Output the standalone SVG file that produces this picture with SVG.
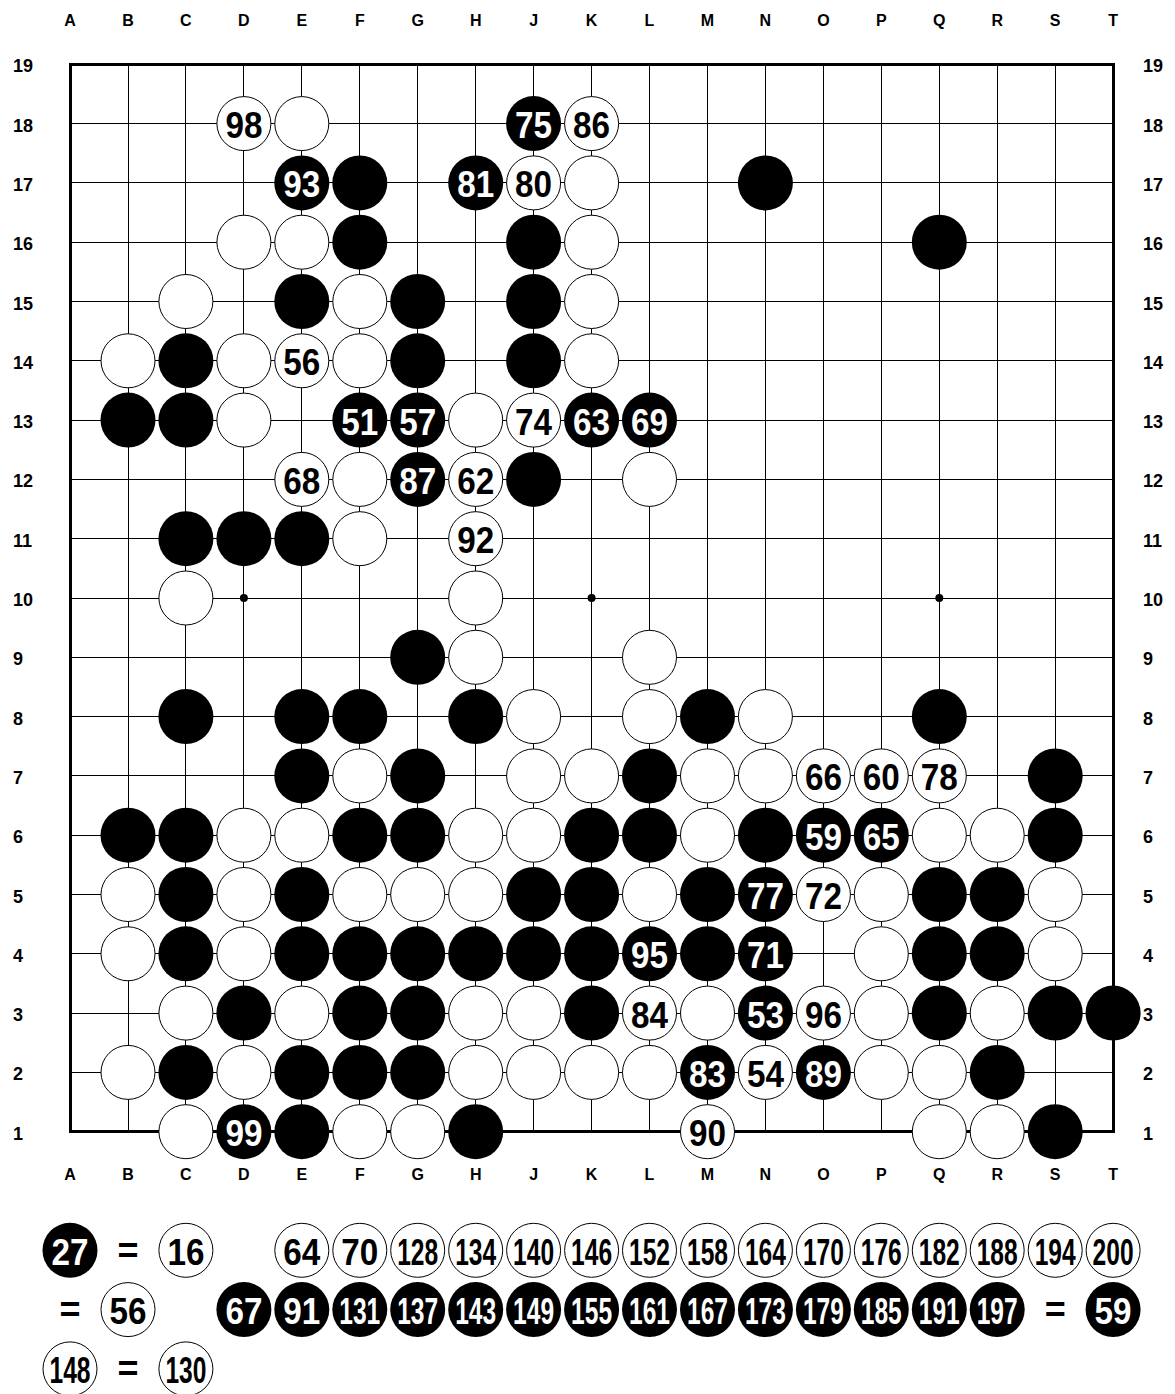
<svg xmlns="http://www.w3.org/2000/svg" xmlns:xlink="http://www.w3.org/1999/xlink" width="1175" height="1394" viewBox="0 0 1175 1394">
<style>
.lbl{font-family:"Liberation Sans",Arial,sans-serif;font-weight:bold;font-size:16px;fill:#000;text-anchor:middle}
.rl{font-family:"Liberation Sans",Arial,sans-serif;font-weight:bold;font-size:18px;fill:#000}
.nb{font-family:"Liberation Sans",Arial,sans-serif;font-weight:bold;font-size:36px;fill:#fff;text-anchor:middle}
.nw{font-family:"Liberation Sans",Arial,sans-serif;font-weight:bold;font-size:36px;fill:#000;text-anchor:middle}
.eq{font-family:"Liberation Sans",Arial,sans-serif;font-weight:bold;font-size:36px;fill:#000;text-anchor:middle}
</style>
<defs>
<circle id="bk" r="27.5" fill="#000"/>
<circle id="wh" r="27" fill="#fff" stroke="#000" stroke-width="1"/>
</defs>
<rect width="1175" height="1394" fill="#fff"/>
<g id="coords">
<text class="lbl" x="70" y="26">A</text><text class="lbl" x="128" y="26">B</text><text class="lbl" x="185.9" y="26">C</text><text class="lbl" x="243.9" y="26">D</text><text class="lbl" x="301.8" y="26">E</text><text class="lbl" x="359.8" y="26">F</text><text class="lbl" x="417.7" y="26">G</text><text class="lbl" x="475.7" y="26">H</text><text class="lbl" x="533.6" y="26">J</text><text class="lbl" x="591.6" y="26">K</text><text class="lbl" x="649.5" y="26">L</text><text class="lbl" x="707.5" y="26">M</text><text class="lbl" x="765.4" y="26">N</text><text class="lbl" x="823.4" y="26">O</text><text class="lbl" x="881.3" y="26">P</text><text class="lbl" x="939.3" y="26">Q</text><text class="lbl" x="997.2" y="26">R</text><text class="lbl" x="1055.2" y="26">S</text><text class="lbl" x="1113.1" y="26">T</text>
<text class="lbl" x="70" y="1180">A</text><text class="lbl" x="128" y="1180">B</text><text class="lbl" x="185.9" y="1180">C</text><text class="lbl" x="243.9" y="1180">D</text><text class="lbl" x="301.8" y="1180">E</text><text class="lbl" x="359.8" y="1180">F</text><text class="lbl" x="417.7" y="1180">G</text><text class="lbl" x="475.7" y="1180">H</text><text class="lbl" x="533.6" y="1180">J</text><text class="lbl" x="591.6" y="1180">K</text><text class="lbl" x="649.5" y="1180">L</text><text class="lbl" x="707.5" y="1180">M</text><text class="lbl" x="765.4" y="1180">N</text><text class="lbl" x="823.4" y="1180">O</text><text class="lbl" x="881.3" y="1180">P</text><text class="lbl" x="939.3" y="1180">Q</text><text class="lbl" x="997.2" y="1180">R</text><text class="lbl" x="1055.2" y="1180">S</text><text class="lbl" x="1113.1" y="1180">T</text>
<text class="rl" x="13" y="72.3">19</text><text class="rl" x="13" y="131.6">18</text><text class="rl" x="13" y="190.9">17</text><text class="rl" x="13" y="250.2">16</text><text class="rl" x="13" y="309.5">15</text><text class="rl" x="13" y="368.8">14</text><text class="rl" x="13" y="428.1">13</text><text class="rl" x="13" y="487.4">12</text><text class="rl" x="13" y="546.7">11</text><text class="rl" x="13" y="606">10</text><text class="rl" x="13" y="665.3">9</text><text class="rl" x="13" y="724.6">8</text><text class="rl" x="13" y="783.9">7</text><text class="rl" x="13" y="843.2">6</text><text class="rl" x="13" y="902.5">5</text><text class="rl" x="13" y="961.8">4</text><text class="rl" x="13" y="1021.1">3</text><text class="rl" x="13" y="1080.4">2</text><text class="rl" x="13" y="1139.7">1</text>
<text class="rl" x="1143" y="72.3">19</text><text class="rl" x="1143" y="131.6">18</text><text class="rl" x="1143" y="190.9">17</text><text class="rl" x="1143" y="250.2">16</text><text class="rl" x="1143" y="309.5">15</text><text class="rl" x="1143" y="368.8">14</text><text class="rl" x="1143" y="428.1">13</text><text class="rl" x="1143" y="487.4">12</text><text class="rl" x="1143" y="546.7">11</text><text class="rl" x="1143" y="606">10</text><text class="rl" x="1143" y="665.3">9</text><text class="rl" x="1143" y="724.6">8</text><text class="rl" x="1143" y="783.9">7</text><text class="rl" x="1143" y="843.2">6</text><text class="rl" x="1143" y="902.5">5</text><text class="rl" x="1143" y="961.8">4</text><text class="rl" x="1143" y="1021.1">3</text><text class="rl" x="1143" y="1080.4">2</text><text class="rl" x="1143" y="1139.7">1</text>
</g>
<g id="grid" stroke="#000" fill="none" shape-rendering="crispEdges">
<path stroke-width="1" d="M70 123.6H1113.1M70 182.9H1113.1M70 242.2H1113.1M70 301.5H1113.1M70 360.8H1113.1M70 420.1H1113.1M70 479.4H1113.1M70 538.7H1113.1M70 598H1113.1M70 657.3H1113.1M70 716.6H1113.1M70 775.9H1113.1M70 835.2H1113.1M70 894.5H1113.1M70 953.8H1113.1M70 1013.1H1113.1M70 1072.4H1113.1M128 64.3V1131.7M185.9 64.3V1131.7M243.9 64.3V1131.7M301.8 64.3V1131.7M359.8 64.3V1131.7M417.7 64.3V1131.7M475.7 64.3V1131.7M533.6 64.3V1131.7M591.6 64.3V1131.7M649.5 64.3V1131.7M707.5 64.3V1131.7M765.4 64.3V1131.7M823.4 64.3V1131.7M881.3 64.3V1131.7M939.3 64.3V1131.7M997.2 64.3V1131.7M1055.2 64.3V1131.7"/>
<rect x="70" y="64.3" width="1043.1" height="1067.4" stroke-width="3"/>
</g>
<g id="hoshi" fill="#000">
<circle cx="243.9" cy="598" r="4"/><circle cx="591.6" cy="598" r="4"/><circle cx="939.3" cy="598" r="4"/>
</g>
<g id="stones">
<g id="D18"><use href="#wh" x="243.9" y="123.6"/><text class="nw" x="243.9" y="138.1" textLength="37" lengthAdjust="spacingAndGlyphs">98</text></g>
<g id="E18"><use href="#wh" x="301.8" y="123.6"/></g>
<g id="J18"><use href="#bk" x="533.6" y="123.6"/><text class="nb" x="533.6" y="138.1" textLength="37" lengthAdjust="spacingAndGlyphs">75</text></g>
<g id="K18"><use href="#wh" x="591.6" y="123.6"/><text class="nw" x="591.6" y="138.1" textLength="37" lengthAdjust="spacingAndGlyphs">86</text></g>
<g id="E17"><use href="#bk" x="301.8" y="182.9"/><text class="nb" x="301.8" y="197.4" textLength="37" lengthAdjust="spacingAndGlyphs">93</text></g>
<g id="F17"><use href="#bk" x="359.8" y="182.9"/></g>
<g id="H17"><use href="#bk" x="475.7" y="182.9"/><text class="nb" x="475.7" y="197.4" textLength="37" lengthAdjust="spacingAndGlyphs">81</text></g>
<g id="J17"><use href="#wh" x="533.6" y="182.9"/><text class="nw" x="533.6" y="197.4" textLength="37" lengthAdjust="spacingAndGlyphs">80</text></g>
<g id="K17"><use href="#wh" x="591.6" y="182.9"/></g>
<g id="N17"><use href="#bk" x="765.4" y="182.9"/></g>
<g id="D16"><use href="#wh" x="243.9" y="242.2"/></g>
<g id="E16"><use href="#wh" x="301.8" y="242.2"/></g>
<g id="F16"><use href="#bk" x="359.8" y="242.2"/></g>
<g id="J16"><use href="#bk" x="533.6" y="242.2"/></g>
<g id="K16"><use href="#wh" x="591.6" y="242.2"/></g>
<g id="Q16"><use href="#bk" x="939.3" y="242.2"/></g>
<g id="C15"><use href="#wh" x="185.9" y="301.5"/></g>
<g id="E15"><use href="#bk" x="301.8" y="301.5"/></g>
<g id="F15"><use href="#wh" x="359.8" y="301.5"/></g>
<g id="G15"><use href="#bk" x="417.7" y="301.5"/></g>
<g id="J15"><use href="#bk" x="533.6" y="301.5"/></g>
<g id="K15"><use href="#wh" x="591.6" y="301.5"/></g>
<g id="B14"><use href="#wh" x="128" y="360.8"/></g>
<g id="C14"><use href="#bk" x="185.9" y="360.8"/></g>
<g id="D14"><use href="#wh" x="243.9" y="360.8"/></g>
<g id="E14"><use href="#wh" x="301.8" y="360.8"/><text class="nw" x="301.8" y="375.3" textLength="37" lengthAdjust="spacingAndGlyphs">56</text></g>
<g id="F14"><use href="#wh" x="359.8" y="360.8"/></g>
<g id="G14"><use href="#bk" x="417.7" y="360.8"/></g>
<g id="J14"><use href="#bk" x="533.6" y="360.8"/></g>
<g id="K14"><use href="#wh" x="591.6" y="360.8"/></g>
<g id="B13"><use href="#bk" x="128" y="420.1"/></g>
<g id="C13"><use href="#bk" x="185.9" y="420.1"/></g>
<g id="D13"><use href="#wh" x="243.9" y="420.1"/></g>
<g id="F13"><use href="#bk" x="359.8" y="420.1"/><text class="nb" x="359.8" y="434.6" textLength="37" lengthAdjust="spacingAndGlyphs">51</text></g>
<g id="G13"><use href="#bk" x="417.7" y="420.1"/><text class="nb" x="417.7" y="434.6" textLength="37" lengthAdjust="spacingAndGlyphs">57</text></g>
<g id="H13"><use href="#wh" x="475.7" y="420.1"/></g>
<g id="J13"><use href="#wh" x="533.6" y="420.1"/><text class="nw" x="533.6" y="434.6" textLength="37" lengthAdjust="spacingAndGlyphs">74</text></g>
<g id="K13"><use href="#bk" x="591.6" y="420.1"/><text class="nb" x="591.6" y="434.6" textLength="37" lengthAdjust="spacingAndGlyphs">63</text></g>
<g id="L13"><use href="#bk" x="649.5" y="420.1"/><text class="nb" x="649.5" y="434.6" textLength="37" lengthAdjust="spacingAndGlyphs">69</text></g>
<g id="E12"><use href="#wh" x="301.8" y="479.4"/><text class="nw" x="301.8" y="493.9" textLength="37" lengthAdjust="spacingAndGlyphs">68</text></g>
<g id="F12"><use href="#wh" x="359.8" y="479.4"/></g>
<g id="G12"><use href="#bk" x="417.7" y="479.4"/><text class="nb" x="417.7" y="493.9" textLength="37" lengthAdjust="spacingAndGlyphs">87</text></g>
<g id="H12"><use href="#wh" x="475.7" y="479.4"/><text class="nw" x="475.7" y="493.9" textLength="37" lengthAdjust="spacingAndGlyphs">62</text></g>
<g id="J12"><use href="#bk" x="533.6" y="479.4"/></g>
<g id="L12"><use href="#wh" x="649.5" y="479.4"/></g>
<g id="C11"><use href="#bk" x="185.9" y="538.7"/></g>
<g id="D11"><use href="#bk" x="243.9" y="538.7"/></g>
<g id="E11"><use href="#bk" x="301.8" y="538.7"/></g>
<g id="F11"><use href="#wh" x="359.8" y="538.7"/></g>
<g id="H11"><use href="#wh" x="475.7" y="538.7"/><text class="nw" x="475.7" y="553.2" textLength="37" lengthAdjust="spacingAndGlyphs">92</text></g>
<g id="C10"><use href="#wh" x="185.9" y="598"/></g>
<g id="H10"><use href="#wh" x="475.7" y="598"/></g>
<g id="G9"><use href="#bk" x="417.7" y="657.3"/></g>
<g id="H9"><use href="#wh" x="475.7" y="657.3"/></g>
<g id="L9"><use href="#wh" x="649.5" y="657.3"/></g>
<g id="C8"><use href="#bk" x="185.9" y="716.6"/></g>
<g id="E8"><use href="#bk" x="301.8" y="716.6"/></g>
<g id="F8"><use href="#bk" x="359.8" y="716.6"/></g>
<g id="H8"><use href="#bk" x="475.7" y="716.6"/></g>
<g id="J8"><use href="#wh" x="533.6" y="716.6"/></g>
<g id="L8"><use href="#wh" x="649.5" y="716.6"/></g>
<g id="M8"><use href="#bk" x="707.5" y="716.6"/></g>
<g id="N8"><use href="#wh" x="765.4" y="716.6"/></g>
<g id="Q8"><use href="#bk" x="939.3" y="716.6"/></g>
<g id="E7"><use href="#bk" x="301.8" y="775.9"/></g>
<g id="F7"><use href="#wh" x="359.8" y="775.9"/></g>
<g id="G7"><use href="#bk" x="417.7" y="775.9"/></g>
<g id="J7"><use href="#wh" x="533.6" y="775.9"/></g>
<g id="K7"><use href="#wh" x="591.6" y="775.9"/></g>
<g id="L7"><use href="#bk" x="649.5" y="775.9"/></g>
<g id="M7"><use href="#wh" x="707.5" y="775.9"/></g>
<g id="N7"><use href="#wh" x="765.4" y="775.9"/></g>
<g id="O7"><use href="#wh" x="823.4" y="775.9"/><text class="nw" x="823.4" y="790.4" textLength="37" lengthAdjust="spacingAndGlyphs">66</text></g>
<g id="P7"><use href="#wh" x="881.3" y="775.9"/><text class="nw" x="881.3" y="790.4" textLength="37" lengthAdjust="spacingAndGlyphs">60</text></g>
<g id="Q7"><use href="#wh" x="939.3" y="775.9"/><text class="nw" x="939.3" y="790.4" textLength="37" lengthAdjust="spacingAndGlyphs">78</text></g>
<g id="S7"><use href="#bk" x="1055.2" y="775.9"/></g>
<g id="B6"><use href="#bk" x="128" y="835.2"/></g>
<g id="C6"><use href="#bk" x="185.9" y="835.2"/></g>
<g id="D6"><use href="#wh" x="243.9" y="835.2"/></g>
<g id="E6"><use href="#wh" x="301.8" y="835.2"/></g>
<g id="F6"><use href="#bk" x="359.8" y="835.2"/></g>
<g id="G6"><use href="#bk" x="417.7" y="835.2"/></g>
<g id="H6"><use href="#wh" x="475.7" y="835.2"/></g>
<g id="J6"><use href="#wh" x="533.6" y="835.2"/></g>
<g id="K6"><use href="#bk" x="591.6" y="835.2"/></g>
<g id="L6"><use href="#bk" x="649.5" y="835.2"/></g>
<g id="M6"><use href="#wh" x="707.5" y="835.2"/></g>
<g id="N6"><use href="#bk" x="765.4" y="835.2"/></g>
<g id="O6"><use href="#bk" x="823.4" y="835.2"/><text class="nb" x="823.4" y="849.7" textLength="37" lengthAdjust="spacingAndGlyphs">59</text></g>
<g id="P6"><use href="#bk" x="881.3" y="835.2"/><text class="nb" x="881.3" y="849.7" textLength="37" lengthAdjust="spacingAndGlyphs">65</text></g>
<g id="Q6"><use href="#wh" x="939.3" y="835.2"/></g>
<g id="R6"><use href="#wh" x="997.2" y="835.2"/></g>
<g id="S6"><use href="#bk" x="1055.2" y="835.2"/></g>
<g id="B5"><use href="#wh" x="128" y="894.5"/></g>
<g id="C5"><use href="#bk" x="185.9" y="894.5"/></g>
<g id="D5"><use href="#wh" x="243.9" y="894.5"/></g>
<g id="E5"><use href="#bk" x="301.8" y="894.5"/></g>
<g id="F5"><use href="#wh" x="359.8" y="894.5"/></g>
<g id="G5"><use href="#wh" x="417.7" y="894.5"/></g>
<g id="H5"><use href="#wh" x="475.7" y="894.5"/></g>
<g id="J5"><use href="#bk" x="533.6" y="894.5"/></g>
<g id="K5"><use href="#bk" x="591.6" y="894.5"/></g>
<g id="L5"><use href="#wh" x="649.5" y="894.5"/></g>
<g id="M5"><use href="#bk" x="707.5" y="894.5"/></g>
<g id="N5"><use href="#bk" x="765.4" y="894.5"/><text class="nb" x="765.4" y="909" textLength="37" lengthAdjust="spacingAndGlyphs">77</text></g>
<g id="O5"><use href="#wh" x="823.4" y="894.5"/><text class="nw" x="823.4" y="909" textLength="37" lengthAdjust="spacingAndGlyphs">72</text></g>
<g id="P5"><use href="#wh" x="881.3" y="894.5"/></g>
<g id="Q5"><use href="#bk" x="939.3" y="894.5"/></g>
<g id="R5"><use href="#bk" x="997.2" y="894.5"/></g>
<g id="S5"><use href="#wh" x="1055.2" y="894.5"/></g>
<g id="B4"><use href="#wh" x="128" y="953.8"/></g>
<g id="C4"><use href="#bk" x="185.9" y="953.8"/></g>
<g id="D4"><use href="#wh" x="243.9" y="953.8"/></g>
<g id="E4"><use href="#bk" x="301.8" y="953.8"/></g>
<g id="F4"><use href="#bk" x="359.8" y="953.8"/></g>
<g id="G4"><use href="#bk" x="417.7" y="953.8"/></g>
<g id="H4"><use href="#bk" x="475.7" y="953.8"/></g>
<g id="J4"><use href="#bk" x="533.6" y="953.8"/></g>
<g id="K4"><use href="#bk" x="591.6" y="953.8"/></g>
<g id="L4"><use href="#bk" x="649.5" y="953.8"/><text class="nb" x="649.5" y="968.3" textLength="37" lengthAdjust="spacingAndGlyphs">95</text></g>
<g id="M4"><use href="#bk" x="707.5" y="953.8"/></g>
<g id="N4"><use href="#bk" x="765.4" y="953.8"/><text class="nb" x="765.4" y="968.3" textLength="37" lengthAdjust="spacingAndGlyphs">71</text></g>
<g id="P4"><use href="#wh" x="881.3" y="953.8"/></g>
<g id="Q4"><use href="#bk" x="939.3" y="953.8"/></g>
<g id="R4"><use href="#bk" x="997.2" y="953.8"/></g>
<g id="S4"><use href="#wh" x="1055.2" y="953.8"/></g>
<g id="C3"><use href="#wh" x="185.9" y="1013.1"/></g>
<g id="D3"><use href="#bk" x="243.9" y="1013.1"/></g>
<g id="E3"><use href="#wh" x="301.8" y="1013.1"/></g>
<g id="F3"><use href="#bk" x="359.8" y="1013.1"/></g>
<g id="G3"><use href="#bk" x="417.7" y="1013.1"/></g>
<g id="H3"><use href="#wh" x="475.7" y="1013.1"/></g>
<g id="J3"><use href="#wh" x="533.6" y="1013.1"/></g>
<g id="K3"><use href="#bk" x="591.6" y="1013.1"/></g>
<g id="L3"><use href="#wh" x="649.5" y="1013.1"/><text class="nw" x="649.5" y="1027.6" textLength="37" lengthAdjust="spacingAndGlyphs">84</text></g>
<g id="M3"><use href="#wh" x="707.5" y="1013.1"/></g>
<g id="N3"><use href="#bk" x="765.4" y="1013.1"/><text class="nb" x="765.4" y="1027.6" textLength="37" lengthAdjust="spacingAndGlyphs">53</text></g>
<g id="O3"><use href="#wh" x="823.4" y="1013.1"/><text class="nw" x="823.4" y="1027.6" textLength="37" lengthAdjust="spacingAndGlyphs">96</text></g>
<g id="P3"><use href="#wh" x="881.3" y="1013.1"/></g>
<g id="Q3"><use href="#bk" x="939.3" y="1013.1"/></g>
<g id="R3"><use href="#wh" x="997.2" y="1013.1"/></g>
<g id="S3"><use href="#bk" x="1055.2" y="1013.1"/></g>
<g id="T3"><use href="#bk" x="1113.1" y="1013.1"/></g>
<g id="B2"><use href="#wh" x="128" y="1072.4"/></g>
<g id="C2"><use href="#bk" x="185.9" y="1072.4"/></g>
<g id="D2"><use href="#wh" x="243.9" y="1072.4"/></g>
<g id="E2"><use href="#bk" x="301.8" y="1072.4"/></g>
<g id="F2"><use href="#bk" x="359.8" y="1072.4"/></g>
<g id="G2"><use href="#bk" x="417.7" y="1072.4"/></g>
<g id="H2"><use href="#wh" x="475.7" y="1072.4"/></g>
<g id="J2"><use href="#wh" x="533.6" y="1072.4"/></g>
<g id="K2"><use href="#wh" x="591.6" y="1072.4"/></g>
<g id="L2"><use href="#wh" x="649.5" y="1072.4"/></g>
<g id="M2"><use href="#bk" x="707.5" y="1072.4"/><text class="nb" x="707.5" y="1086.9" textLength="37" lengthAdjust="spacingAndGlyphs">83</text></g>
<g id="N2"><use href="#wh" x="765.4" y="1072.4"/><text class="nw" x="765.4" y="1086.9" textLength="37" lengthAdjust="spacingAndGlyphs">54</text></g>
<g id="O2"><use href="#bk" x="823.4" y="1072.4"/><text class="nb" x="823.4" y="1086.9" textLength="37" lengthAdjust="spacingAndGlyphs">89</text></g>
<g id="P2"><use href="#wh" x="881.3" y="1072.4"/></g>
<g id="Q2"><use href="#wh" x="939.3" y="1072.4"/></g>
<g id="R2"><use href="#bk" x="997.2" y="1072.4"/></g>
<g id="C1"><use href="#wh" x="185.9" y="1131.7"/></g>
<g id="D1"><use href="#bk" x="243.9" y="1131.7"/><text class="nb" x="243.9" y="1146.2" textLength="37" lengthAdjust="spacingAndGlyphs">99</text></g>
<g id="E1"><use href="#bk" x="301.8" y="1131.7"/></g>
<g id="F1"><use href="#wh" x="359.8" y="1131.7"/></g>
<g id="G1"><use href="#wh" x="417.7" y="1131.7"/></g>
<g id="H1"><use href="#bk" x="475.7" y="1131.7"/></g>
<g id="M1"><use href="#wh" x="707.5" y="1131.7"/><text class="nw" x="707.5" y="1146.2" textLength="37" lengthAdjust="spacingAndGlyphs">90</text></g>
<g id="Q1"><use href="#wh" x="939.3" y="1131.7"/></g>
<g id="R1"><use href="#wh" x="997.2" y="1131.7"/></g>
<g id="S1"><use href="#bk" x="1055.2" y="1131.7"/></g>
</g>
<g id="legend">
<g id="lg27"><use href="#bk" x="70" y="1250.3"/><text class="nb" x="70" y="1264.8" textLength="37" lengthAdjust="spacingAndGlyphs">27</text></g>
<text class="eq" x="128" y="1262.8">=</text>
<g id="lg16"><use href="#wh" x="185.9" y="1250.3"/><text class="nw" x="185.9" y="1264.8" textLength="37" lengthAdjust="spacingAndGlyphs">16</text></g>
<g id="lg64"><use href="#wh" x="301.8" y="1250.3"/><text class="nw" x="301.8" y="1264.8" textLength="37" lengthAdjust="spacingAndGlyphs">64</text></g>
<g id="lg70"><use href="#wh" x="359.8" y="1250.3"/><text class="nw" x="359.8" y="1264.8" textLength="37" lengthAdjust="spacingAndGlyphs">70</text></g>
<g id="lg128"><use href="#wh" x="417.7" y="1250.3"/><text class="nw" x="417.7" y="1264.8" textLength="41" lengthAdjust="spacingAndGlyphs">128</text></g>
<g id="lg134"><use href="#wh" x="475.7" y="1250.3"/><text class="nw" x="475.7" y="1264.8" textLength="41" lengthAdjust="spacingAndGlyphs">134</text></g>
<g id="lg140"><use href="#wh" x="533.6" y="1250.3"/><text class="nw" x="533.6" y="1264.8" textLength="41" lengthAdjust="spacingAndGlyphs">140</text></g>
<g id="lg146"><use href="#wh" x="591.6" y="1250.3"/><text class="nw" x="591.6" y="1264.8" textLength="41" lengthAdjust="spacingAndGlyphs">146</text></g>
<g id="lg152"><use href="#wh" x="649.5" y="1250.3"/><text class="nw" x="649.5" y="1264.8" textLength="41" lengthAdjust="spacingAndGlyphs">152</text></g>
<g id="lg158"><use href="#wh" x="707.5" y="1250.3"/><text class="nw" x="707.5" y="1264.8" textLength="41" lengthAdjust="spacingAndGlyphs">158</text></g>
<g id="lg164"><use href="#wh" x="765.4" y="1250.3"/><text class="nw" x="765.4" y="1264.8" textLength="41" lengthAdjust="spacingAndGlyphs">164</text></g>
<g id="lg170"><use href="#wh" x="823.4" y="1250.3"/><text class="nw" x="823.4" y="1264.8" textLength="41" lengthAdjust="spacingAndGlyphs">170</text></g>
<g id="lg176"><use href="#wh" x="881.3" y="1250.3"/><text class="nw" x="881.3" y="1264.8" textLength="41" lengthAdjust="spacingAndGlyphs">176</text></g>
<g id="lg182"><use href="#wh" x="939.3" y="1250.3"/><text class="nw" x="939.3" y="1264.8" textLength="41" lengthAdjust="spacingAndGlyphs">182</text></g>
<g id="lg188"><use href="#wh" x="997.2" y="1250.3"/><text class="nw" x="997.2" y="1264.8" textLength="41" lengthAdjust="spacingAndGlyphs">188</text></g>
<g id="lg194"><use href="#wh" x="1055.2" y="1250.3"/><text class="nw" x="1055.2" y="1264.8" textLength="41" lengthAdjust="spacingAndGlyphs">194</text></g>
<g id="lg200"><use href="#wh" x="1113.1" y="1250.3"/><text class="nw" x="1113.1" y="1264.8" textLength="41" lengthAdjust="spacingAndGlyphs">200</text></g>
<text class="eq" x="70" y="1322.1">=</text>
<g id="lg56"><use href="#wh" x="128" y="1309.6"/><text class="nw" x="128" y="1324.1" textLength="37" lengthAdjust="spacingAndGlyphs">56</text></g>
<g id="lg67"><use href="#bk" x="243.9" y="1309.6"/><text class="nb" x="243.9" y="1324.1" textLength="37" lengthAdjust="spacingAndGlyphs">67</text></g>
<g id="lg91"><use href="#bk" x="301.8" y="1309.6"/><text class="nb" x="301.8" y="1324.1" textLength="37" lengthAdjust="spacingAndGlyphs">91</text></g>
<g id="lg131"><use href="#bk" x="359.8" y="1309.6"/><text class="nb" x="359.8" y="1324.1" textLength="41" lengthAdjust="spacingAndGlyphs">131</text></g>
<g id="lg137"><use href="#bk" x="417.7" y="1309.6"/><text class="nb" x="417.7" y="1324.1" textLength="41" lengthAdjust="spacingAndGlyphs">137</text></g>
<g id="lg143"><use href="#bk" x="475.7" y="1309.6"/><text class="nb" x="475.7" y="1324.1" textLength="41" lengthAdjust="spacingAndGlyphs">143</text></g>
<g id="lg149"><use href="#bk" x="533.6" y="1309.6"/><text class="nb" x="533.6" y="1324.1" textLength="41" lengthAdjust="spacingAndGlyphs">149</text></g>
<g id="lg155"><use href="#bk" x="591.6" y="1309.6"/><text class="nb" x="591.6" y="1324.1" textLength="41" lengthAdjust="spacingAndGlyphs">155</text></g>
<g id="lg161"><use href="#bk" x="649.5" y="1309.6"/><text class="nb" x="649.5" y="1324.1" textLength="41" lengthAdjust="spacingAndGlyphs">161</text></g>
<g id="lg167"><use href="#bk" x="707.5" y="1309.6"/><text class="nb" x="707.5" y="1324.1" textLength="41" lengthAdjust="spacingAndGlyphs">167</text></g>
<g id="lg173"><use href="#bk" x="765.4" y="1309.6"/><text class="nb" x="765.4" y="1324.1" textLength="41" lengthAdjust="spacingAndGlyphs">173</text></g>
<g id="lg179"><use href="#bk" x="823.4" y="1309.6"/><text class="nb" x="823.4" y="1324.1" textLength="41" lengthAdjust="spacingAndGlyphs">179</text></g>
<g id="lg185"><use href="#bk" x="881.3" y="1309.6"/><text class="nb" x="881.3" y="1324.1" textLength="41" lengthAdjust="spacingAndGlyphs">185</text></g>
<g id="lg191"><use href="#bk" x="939.3" y="1309.6"/><text class="nb" x="939.3" y="1324.1" textLength="41" lengthAdjust="spacingAndGlyphs">191</text></g>
<g id="lg197"><use href="#bk" x="997.2" y="1309.6"/><text class="nb" x="997.2" y="1324.1" textLength="41" lengthAdjust="spacingAndGlyphs">197</text></g>
<text class="eq" x="1055.2" y="1322.1">=</text>
<g id="lg59"><use href="#bk" x="1113.1" y="1309.6"/><text class="nb" x="1113.1" y="1324.1" textLength="37" lengthAdjust="spacingAndGlyphs">59</text></g>
<g id="lg148"><use href="#wh" x="70" y="1368.9"/><text class="nw" x="70" y="1383.4" textLength="41" lengthAdjust="spacingAndGlyphs">148</text></g>
<text class="eq" x="128" y="1381.4">=</text>
<g id="lg130"><use href="#wh" x="185.9" y="1368.9"/><text class="nw" x="185.9" y="1383.4" textLength="41" lengthAdjust="spacingAndGlyphs">130</text></g>
</g>
</svg>
